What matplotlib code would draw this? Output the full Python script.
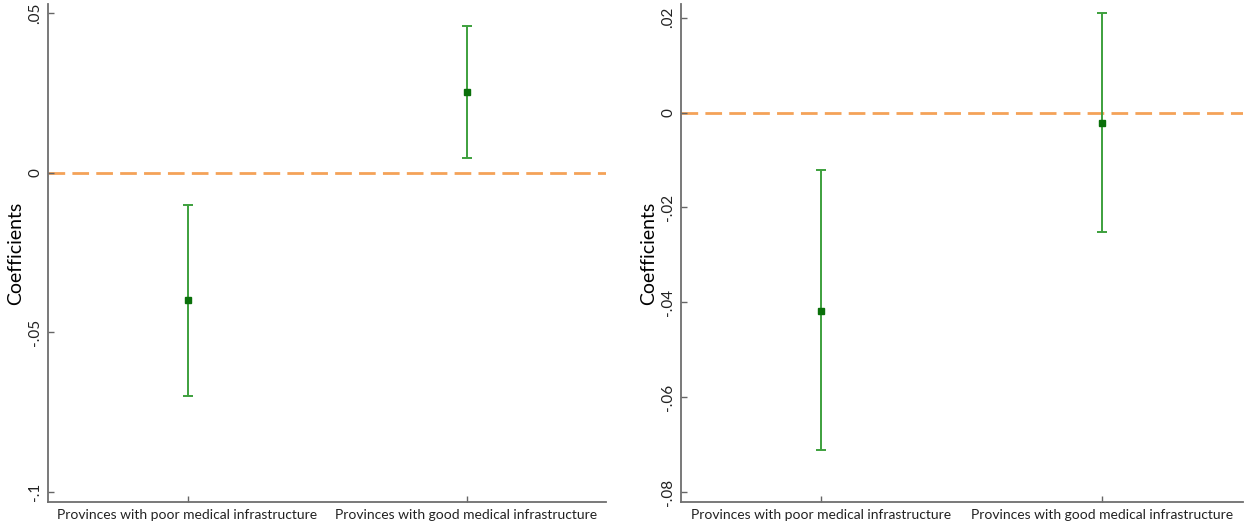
import matplotlib
matplotlib.use("Agg")
import matplotlib.pyplot as plt

plt.rcParams['font.family'] = ['Lato', 'DejaVu Sans']

categories = ["Provinces with poor medical infrastructure",
              "Provinces with good medical infrastructure"]

# left panel: point estimates and 95% CI bounds
left_coef = [-0.0400, 0.0251]
left_lo = [-0.0699, 0.0046]
left_hi = [-0.0100, 0.0458]
left_ticks = [0.05, 0.0, -0.05, -0.1]
left_ticklabels = [".05", "0", "-.05", "-.1"]

# right panel
right_coef = [-0.0418, -0.0022]
right_lo = [-0.0712, -0.0251]
right_hi = [-0.0122, 0.0209]
right_ticks = [0.02, 0.0, -0.02, -0.04, -0.06, -0.08]
right_ticklabels = [".02", "0", "-.02", "-.04", "-.06", "-.08"]

fig = plt.figure(figsize=(12.48, 5.27), dpi=100)
ax1 = fig.add_axes([48/1248, 1-502/527, 558/1248, 498/527])
ax2 = fig.add_axes([681/1248, 1-502/527, 562/1248, 498/527])


def panel(ax, coef, lo, hi, ticks, labels, ylim):
    x = [1, 2]
    err = [[c - l for c, l in zip(coef, lo)], [h - c for c, h in zip(coef, hi)]]
    ax.axhline(0, color="#F4A258", lw=2, dashes=(6, 2.6), zorder=1)
    ax.errorbar(x, coef, yerr=err, fmt="none", ecolor="#3DA03D",
                elinewidth=1.4, capsize=3.5, capthick=1.4, zorder=2)
    ax.plot(x, coef, "s", color="#0A700A", ms=5, zorder=3)
    ax.set_xlim(0.5, 2.5)
    ax.set_ylim(*ylim)
    ax.set_xticks(x)
    ax.set_xticklabels(categories, fontsize=10, color="#222222")
    ax.set_yticks(ticks)
    ax.set_yticklabels(labels, rotation=90, va="center", fontsize=11,
                       color="#222222")
    ax.tick_params(direction="in", length=4, width=1, color="#666666")
    ax.tick_params(axis="y", pad=4)
    ax.tick_params(axis="x", pad=5)
    ax.set_ylabel("Coefficients", fontsize=14, labelpad=3)
    for s in ["top", "right"]:
        ax.spines[s].set_visible(False)
    for s in ["left", "bottom"]:
        ax.spines[s].set_color("#6E6E6E")
        ax.spines[s].set_linewidth(1.3)


panel(ax1, left_coef, left_lo, left_hi, left_ticks, left_ticklabels,
      (-0.1031, 0.0528))
panel(ax2, right_coef, right_lo, right_hi, right_ticks, right_ticklabels,
      (-0.0821, 0.0229))

fig.savefig("out.png", dpi=100)
